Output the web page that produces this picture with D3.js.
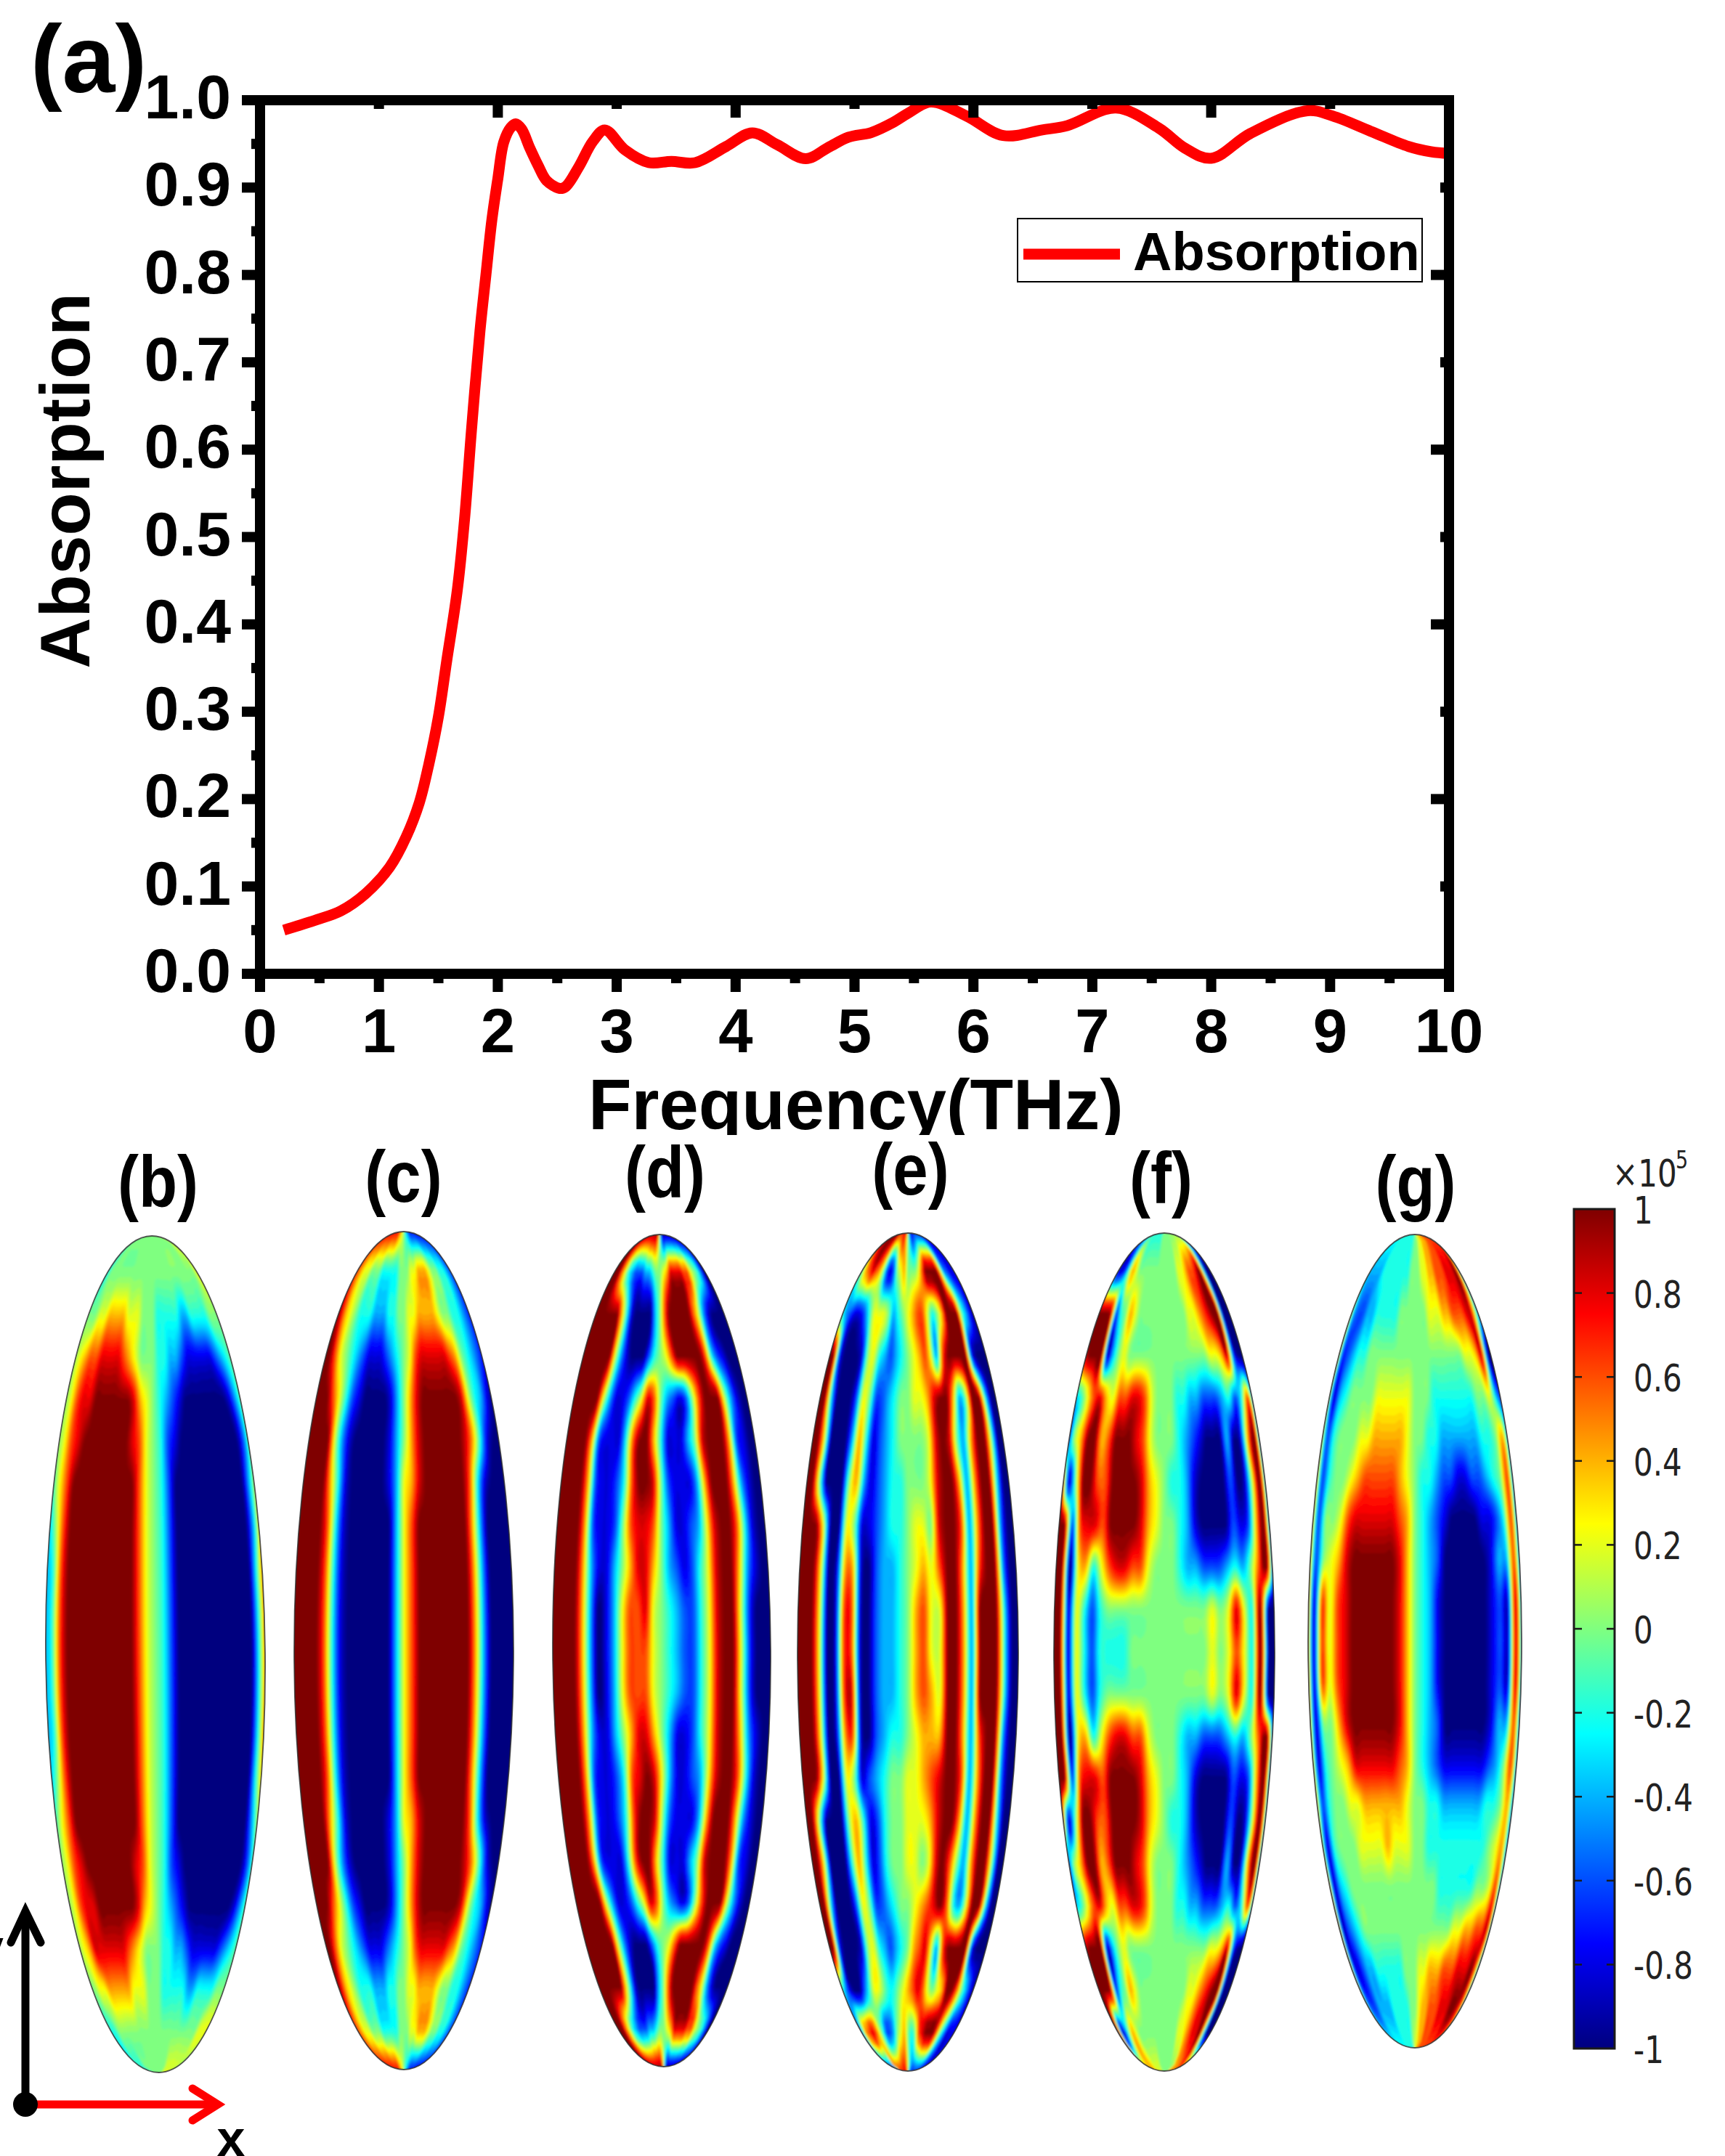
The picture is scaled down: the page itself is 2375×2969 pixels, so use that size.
<!DOCTYPE html>
<html>
<head>
<meta charset="utf-8">
<script src="https://cdn.jsdelivr.net/npm/d3@7"></script>
<style>
  html, body { margin: 0; padding: 0; background: #fff; }
  svg { display: block; }
</style>
</head>
<body>
<div id="chart"></div>
<script>
// absorption curve
var freqValues = [0.2, 0.48, 0.68, 0.89, 1.09, 1.23, 1.34, 1.42, 1.5, 1.57, 1.66, 1.72, 1.78, 1.85, 1.9, 1.95, 2.0, 2.05, 2.11, 2.15, 2.2, 2.27, 2.34, 2.41, 2.52, 2.57, 2.68, 2.8, 2.9, 3.07, 3.27, 3.46, 3.66, 3.92, 4.14, 4.35, 4.59, 4.78, 4.95, 5.14, 5.33, 5.45, 5.64, 5.94, 6.25, 6.58, 6.79, 7.2, 7.56, 7.78, 8.0, 8.33, 8.81, 9.02, 9.34, 9.66, 9.85, 10];
var absorptionValues = [0.05, 0.062, 0.072, 0.092, 0.122, 0.157, 0.196, 0.24, 0.294, 0.358, 0.44, 0.52, 0.625, 0.736, 0.8, 0.863, 0.91, 0.952, 0.969, 0.973, 0.967, 0.945, 0.925, 0.908, 0.899, 0.901, 0.9235, 0.953, 0.966, 0.943, 0.9285, 0.93, 0.9285, 0.947, 0.9626, 0.949, 0.933, 0.946, 0.9577, 0.963, 0.975, 0.985, 0.998, 0.982, 0.9595, 0.966, 0.971, 0.991, 0.968, 0.945, 0.9335, 0.962, 0.988, 0.982, 0.9645, 0.947, 0.941, 0.939];

var xMajorTicks = [0, 1, 2, 3, 4, 5, 6, 7, 8, 9, 10];
var xMinorTicks = [0.5, 1.5, 2.5, 3.5, 4.5, 5.5, 6.5, 7.5, 8.5, 9.5];
var yMajorTicks = [0, 0.1, 0.2, 0.3, 0.4, 0.5, 0.6, 0.7, 0.8, 0.9, 1];
var yMinorTicks = [0.05, 0.15, 0.25, 0.35, 0.45, 0.55, 0.65, 0.75, 0.85, 0.95];
var topMajorTicks = [0, 2, 4, 6, 8, 10];
var topMinorTicks = [1, 3, 5, 7, 9];
var rightMajorTicks = [0, 0.2, 0.4, 0.6, 0.8, 1];
var rightMinorTicks = [0.1, 0.3, 0.5, 0.7, 0.9];

// field maps: one string per row from tip to tip, 29 columns from edge to edge
// level 0 = -1, 5 = 0, A = +1 (steps of 0.2)
var fieldB = [
  "4445555555 5555555555 555556666",
  "4455555555 5555555555 555555566",
  "5556677776 6655544444 334444555",
  "5678899998 7655544332 111112345",
  "56899AAAAA A976543210 000000135",
  "5689AAAAAA A986542100 000000025",
  "468AAAAAAA AA86542000 000000036",
  "358AAAAAAA AA86542000 000000037",
  "348AAAAAAA AA86542000 000000048",
  "348AAAAAAA AA86542000 000000048",
  "348AAAAAAA AA86542000 000000048",
  "348AAAAAAA AA86542000 000000048",
  "348AAAAAAA AA86542000 000000048",
  "358AAAAAAA AA86542000 000000047",
  "468AAAAAAA AA86542000 000000036",
  "5689AAAAAA A986542100 000000025",
  "56899AAAAA A976543210 000000135",
  "5679999998 7655544332 111112345",
  "5566777776 6655544444 334444555",
  "4445555555 5555555555 555556666",
  "4444445555 5555555566 666665544"
];
var fieldC = [
  "9999999999 9876543211 111111111",
  "9876655544 4445556677 765544321",
  "A976544433 3445566777 765544321",
  "AA86543211 1234568999 998754321",
  "AAA8642100 0013579AAA AAA964310",
  "AAAA631000 0013579AAA AAA974100",
  "AAAA741000 0013679AAA AAA841000",
  "AAAA841000 000368AAAA AAA730000",
  "AAAA841000 000368AAAA AAA730000",
  "AAAA841000 000368AAAA AAA730000",
  "AAAA841000 000368AAAA AAA730000",
  "AAAA841000 000368AAAA AAA730000",
  "AAAA841000 000368AAAA AAA730000",
  "AAAA841000 000368AAAA AAA730000",
  "AAAA741000 0013679AAA AAA841000",
  "AAAA631000 0013579AAA AAA974100",
  "AAA8642100 0013579AAA AAA964310",
  "AA86543211 1234568999 998754321",
  "A976544433 3445566777 765544321",
  "9876655544 4445556677 765544321",
  "9999999999 9876543211 111111111"
];
var fieldD = [
  "AAAAAAAAAA AAA8520000 000000000",
  "AAA8643222 3345567999 988654200",
  "AAAAAA7410 000358AAAA A86310000",
  "AAAAAA6310 0024568AAA AA8421000",
  "AAAAA63112 4698532125 8AAA63100",
  "AAAA721114 8AA7411135 9AAA72100",
  "AAAA721124 8AA9521113 7AAA73100",
  "AAAA721125 8998531123 69AA84100",
  "AAAA731135 7997532124 69AA73100",
  "AAAA730136 8896543224 69AA62000",
  "AAAA730136 8886543224 69AA62000",
  "AAAA730136 8886543224 69AA62000",
  "AAAA731135 7997531124 69AA73100",
  "AAAA721124 89A9631123 69AA84100",
  "AAAA721124 8AA9521113 7AAA73100",
  "AAAA721114 8AA7411135 9AAA72100",
  "AAAAA63112 4698532125 8AAA63100",
  "AAAAAA6310 0024568AAA AA8421000",
  "AAAAAA7410 000358AAAA A86310000",
  "AAA8643222 3345567999 988654200",
  "AAAAAAAAAA AAA8520000 000000000"
];
var fieldE = [
  "AAAAAAAA99 9997531111 111111111",
  "4578987521 2567555 68A AAA732110",
  "5321124666 5345678864 57AAA5310",
  "AA20001564 3234567863 8AAAA2000",
  "AA40002652 2345566 79A A735AA400",
  "AA60003741 2345555 69A 9537AA500",
  "AA50005731 2344555 69A A737AA400",
  "AAA6006511 2344566 59A A837AA300",
  "AAA6017710 2334567 68A A738AA300",
  "AAA6018810 2334578 66A A73AAA400",
  "AAA6018810 2334578 66A A73AAA400",
  "AAA6018910 2334578 76A A73AAA400",
  "AAA6017810 2344567 77A A738AA300",
  "AAA6006512 3455667 89A A837AA300",
  "AA50005741 2455666 79A A737AA400",
  "AA60004741 2455665 69A 8537AA500",
  "AA40002652 2345567 89A 8436AA400",
  "AA20001564 3234578 963 8AAAA2000",
  "5310024665 4456789865 67AA85310",
  "2378986422 3567545 89A AA8531110",
  "1111118899 9998642111 111111111"
];
var fieldF = [
  "3333344444 4445555555 555544333",
  "3112576555 5555555566 7889A5001",
  "AAA9245765 5555555556 6789AA100",
  "9AAA135655 5555555555 556679200",
  "3468976889 9865554433 222342481",
  "157AA78AAA 9865554321 0003017A0",
  "A15AA88AAA A976544310 0002016A1",
  "AA28998AAA A976554310 0002127A0",
  "AA06746899 8865554332 2234358A0",
  "AA16424555 5555555555 656964A00",
  "AA16424444 5555555555 656864A00",
  "AA16424555 5555555555 656964A00",
  "AA06746899 8865554332 2234358A0",
  "AA28998AAA A976554310 0002127A0",
  "A15AA88AAA A976544310 0002016A1",
  "157AA78AAA 9865554321 0003017A0",
  "3468976889 9865554433 222342481",
  "9AAA135655 5555555555 556679200",
  "AAA9245765 5555555556 6789AA100",
  "A912576555 5555555566 7899A5001",
  "8888777766 6655555555 777888999"
];
var fieldG = [
  "4444444444 4444556677 788888888",
  "4333344444 4445556677 888999A61",
  "7322334444 4555555666 778889951",
  "8223445555 5555555555 555667910",
  "7134555566 6666555444 444455631",
  "7245556677 7776554433 333344572",
  "8245567888 8876544322 112234581",
  "8255689999 9987543210 000112481",
  "825679AAAA AA97543200 000013381",
  "918689AAAA AA97543100 000012191",
  "918689AAAA AA97543100 000012191",
  "918689AAAA AA97543100 000012191",
  "815579AAAA AA97543200 000013381",
  "8145679999 9987543211 111123581",
  "8245566777 7776554433 333344571",
  "7145556666 7666554444 444445671",
  "9134555555 5555555544 444455681",
  "A123455555 5555555555 566778891",
  "9212334444 4455566777 888999A71",
  "7322333344 4445567788 8999AA971",
  "4444444444 4445667788 888888888"
];

var panelFields = [fieldB, fieldC, fieldD, fieldE, fieldF, fieldG];
var panelLabels = ["(b)", "(c)", "(d)", "(e)", "(f)", "(g)"];
var colorbarTicks = [1, 0.8, 0.6, 0.4, 0.2, 0, -0.2, -0.4, -0.6, -0.8, -1];
var jetDomain = [-1, -0.75, -0.25, 0.25, 0.75, 1];
var jetColors = ["#00007f", "#0000ff", "#00ffff", "#ffff00", "#ff0000", "#7f0000"];

// layout of the ellipses
var panelCx = [214, 556, 911, 1250, 1603, 1948];
var panelCy = [2278, 2273, 2273, 2275, 2275, 2260];
var panelRx = [151, 151, 150, 152, 152, 147];
var panelRy = [576, 577, 573, 577, 577, 560];
var panelTilt = [-0.5, 0, -0.3, 0, 0, 0];
var labelCx = [217.5, 555.5, 915.5, 1253.5, 1598.5, 1949];
var labelBase = [1662, 1655, 1649, 1645, 1657, 1662];

var width = 2375, height = 2969;
var sansFont = "'Liberation Sans', Arial, sans-serif";
var dejaFont = "'DejaVu Sans', sans-serif";

var svg = d3.select("#chart").append("svg")
    .attr("width", width)
    .attr("height", height)
    .style("background", "#fff");

var x = d3.scaleLinear().domain([0, 10]).range([358, 1995]);
var y = d3.scaleLinear().domain([0, 1]).range([1341, 138]);
var jet = d3.scaleLinear().domain(jetDomain).range(jetColors).clamp(true);

// curve goes under the frame, the peak at 5.6 THz is hidden by the top spine
var line = d3.line()
    .x(function(d) { return x(d[0]); })
    .y(function(d) { return y(d[1]); })
    .curve(d3.curveCatmullRom.alpha(0.5));

svg.append("path")
    .datum(d3.zip(freqValues, absorptionValues))
    .attr("fill", "none")
    .attr("stroke", "#ff0000")
    .attr("stroke-width", 15)
    .attr("d", line);

function styleAxis(g) {
  g.select(".domain")
      .attr("stroke", "#000")
      .attr("stroke-width", 14)
      .attr("stroke-linecap", "square");
  g.selectAll(".tick line")
      .attr("stroke", "#000")
      .attr("stroke-width", 14);
}

function addAxis(axis, transform) {
  return svg.append("g")
      .attr("transform", transform)
      .call(axis.tickSizeOuter(0).offset(0))
      .call(styleAxis);
}

addAxis(d3.axisBottom(x).tickValues(xMinorTicks).tickSize(13).tickFormat(""), "translate(0," + y(0) + ")");
addAxis(d3.axisLeft(y).tickValues(yMinorTicks).tickSize(12).tickFormat(""), "translate(" + x(0) + ",0)");
addAxis(d3.axisTop(x).tickValues(topMinorTicks).tickSize(-12).tickFormat(""), "translate(0," + y(1) + ")");
addAxis(d3.axisTop(x).tickValues(topMajorTicks).tickSize(-24).tickFormat(""), "translate(0," + y(1) + ")");
addAxis(d3.axisRight(y).tickValues(rightMinorTicks).tickSize(-12).tickFormat(""), "translate(" + x(10) + ",0)");
addAxis(d3.axisRight(y).tickValues(rightMajorTicks).tickSize(-25).tickFormat(""), "translate(" + x(10) + ",0)");

var bottomAxis = addAxis(d3.axisBottom(x).tickValues(xMajorTicks).tickSize(25).tickFormat(d3.format("d")), "translate(0," + y(0) + ")");
bottomAxis.selectAll("text")
    .attr("y", 108)
    .attr("dy", 0)
    .attr("fill", "#000")
    .style("font", "bold 85px " + sansFont);

var leftAxis = addAxis(d3.axisLeft(y).tickValues(yMajorTicks).tickSize(25).tickFormat(d3.format(".1f")), "translate(" + x(0) + ",0)");
leftAxis.selectAll("text")
    .attr("x", -40)
    .attr("y", 25)
    .attr("dy", 0)
    .attr("fill", "#000")
    .style("font", "bold 86px " + sansFont);

svg.selectAll(".domain").attr("fill", "none");

svg.append("text")
    .attr("x", 42)
    .attr("y", 127)
    .style("font", "bold 131px " + sansFont)
    .text("(a)");

svg.append("text")
    .attr("transform", "translate(123,662) rotate(-90)")
    .attr("text-anchor", "middle")
    .style("font", "bold 97px " + sansFont)
    .text("Absorption");

svg.append("defs").append("clipPath")
    .attr("id", "xTitleClip")
    .append("rect")
    .attr("x", 0).attr("y", 1400)
    .attr("width", width).attr("height", 163);

svg.append("text")
    .attr("x", 810)
    .attr("y", 1555)
    .attr("clip-path", "url(#xTitleClip)")
    .style("font", "bold 97.5px " + sansFont)
    .text("Frequency(THz)");

// legend
var legend = svg.append("g");
legend.append("rect")
    .attr("x", 1401).attr("y", 301)
    .attr("width", 557).attr("height", 87)
    .attr("fill", "#fff")
    .attr("stroke", "#000")
    .attr("stroke-width", 2);
legend.append("line")
    .attr("x1", 1409).attr("x2", 1542)
    .attr("y1", 350).attr("y2", 350)
    .attr("stroke", "#ff0000")
    .attr("stroke-width", 15);
legend.append("text")
    .attr("x", 1560)
    .attr("y", 372)
    .style("font", "bold 74px " + sansFont)
    .text("Absorption");

// ---- field maps ----
var levelChars = "0123456789A";

function decodeField(rows) {
  return rows.map(function(r) {
    return r.replace(/ /g, "").split("").map(function(c) {
      return levelChars.indexOf(c) / 5 - 1;
    });
  });
}

function catmull(a, b, c, d, t) {
  return 0.5 * (2 * b + (c - a) * t + (2 * a - 5 * b + 4 * c - d) * t * t + (3 * b - a - 3 * c + d) * t * t * t);
}

// thicken the coarse table so the contour lines come out round
function refine(grid, k) {
  var nr = grid.length, nc = grid[0].length;
  var w = (nc - 1) * k + 1, h = (nr - 1) * k + 1;
  var values = new Array(w * h);
  function at(r, c) {
    r = Math.max(0, Math.min(nr - 1, r));
    c = Math.max(0, Math.min(nc - 1, c));
    return grid[r][c];
  }
  for (var j = 0; j < h; j++) {
    var r0 = Math.min(nr - 2, Math.floor(j / k)), tr = j / k - r0;
    for (var i = 0; i < w; i++) {
      var c0 = Math.min(nc - 2, Math.floor(i / k)), tc = i / k - c0;
      var col = [];
      for (var m = -1; m <= 2; m++) {
        col.push(catmull(at(r0 + m, c0 - 1), at(r0 + m, c0), at(r0 + m, c0 + 1), at(r0 + m, c0 + 2), tc));
      }
      values[j * w + i] = Math.max(-1, Math.min(1, catmull(col[0], col[1], col[2], col[3], tr)));
    }
  }
  return { w: w, h: h, values: values };
}

var thresholds = d3.range(-0.98, 1, 0.04);

var soften = svg.append("defs").append("filter")
    .attr("id", "soften")
    .attr("x", "-5%").attr("y", "-5%")
    .attr("width", "110%").attr("height", "110%");
soften.append("feGaussianBlur").attr("stdDeviation", 1.6);

panelFields.forEach(function(rows, p) {
  var cx = panelCx[p], cy = panelCy[p], rx = panelRx[p], ry = panelRy[p];
  var fine = refine(decodeField(rows), 4);

  var contours = d3.contours()
      .size([fine.w, fine.h])
      .thresholds(thresholds)(fine.values);

  // table coordinates to ellipse: columns follow the outline at every row
  var toEllipse = d3.geoTransform({
    point: function(gx, gy) {
      var u = Math.max(0, Math.min(1, (gx - 0.5) / (fine.w - 1))) * 2 - 1;
      var v = Math.max(0, Math.min(1, (gy - 0.5) / (fine.h - 1))) * 2 - 1;
      var half = Math.sqrt(Math.max(0, 1 - v * v));
      this.stream.point(cx + u * half * rx * 1.02, cy + v * ry * 1.01);
    }
  });
  var path = d3.geoPath(toEllipse);

  var clipId = "fieldClip" + p;
  svg.append("clipPath").attr("id", clipId)
      .append("ellipse")
      .attr("cx", cx).attr("cy", cy).attr("rx", rx).attr("ry", ry);

  var g = svg.append("g")
      .attr("transform", "rotate(" + panelTilt[p] + "," + cx + "," + cy + ")");

  var inner = g.append("g")
      .attr("clip-path", "url(#" + clipId + ")")
      .append("g")
      .attr("filter", "url(#soften)");
  inner.append("ellipse")
      .attr("cx", cx).attr("cy", cy).attr("rx", rx + 4).attr("ry", ry + 4)
      .attr("fill", jet(-1));
  inner.selectAll("path")
      .data(contours)
      .enter().append("path")
      .attr("d", path)
      .attr("fill", function(d) { return jet(d.value + 0.02); });

  g.append("ellipse")
      .attr("cx", cx).attr("cy", cy).attr("rx", rx).attr("ry", ry)
      .attr("fill", "none")
      .attr("stroke", "#2c2c2c")
      .attr("stroke-width", 1.8)
      .attr("stroke-opacity", 0.8);

  svg.append("text")
      .attr("transform", "translate(" + labelCx[p] + "," + labelBase[p] + ") scale(1,1.15)")
      .attr("text-anchor", "middle")
      .style("font", "bold 87px " + sansFont)
      .text(panelLabels[p]);
});

// ---- colorbar ----
var barX = 2167, barW = 56;
var cbar = d3.scaleLinear().domain([-1, 1]).range([2821, 1665]);

var gradient = svg.append("defs").append("linearGradient")
    .attr("id", "jetGradient")
    .attr("x1", 0).attr("x2", 0)
    .attr("y1", 1).attr("y2", 0);
gradient.selectAll("stop")
    .data(jetDomain)
    .enter().append("stop")
    .attr("offset", function(d) { return (d + 1) / 2; })
    .attr("stop-color", function(d) { return jet(d); });

svg.append("rect")
    .attr("x", barX).attr("y", cbar(1))
    .attr("width", barW).attr("height", cbar(-1) - cbar(1))
    .attr("fill", "url(#jetGradient)")
    .attr("stroke", "#1a1a1a")
    .attr("stroke-width", 3);

var innerTicks = colorbarTicks.slice(1, -1);
svg.selectAll(".cbTickL")
    .data(innerTicks)
    .enter().append("line")
    .attr("class", "cbTickL")
    .attr("x1", barX).attr("x2", barX + 11)
    .attr("y1", function(d) { return cbar(d); })
    .attr("y2", function(d) { return cbar(d); })
    .attr("stroke", "#1a1a1a")
    .attr("stroke-width", 2.5);
svg.selectAll(".cbTickR")
    .data(innerTicks)
    .enter().append("line")
    .attr("class", "cbTickR")
    .attr("x1", barX + barW - 11).attr("x2", barX + barW)
    .attr("y1", function(d) { return cbar(d); })
    .attr("y2", function(d) { return cbar(d); })
    .attr("stroke", "#1a1a1a")
    .attr("stroke-width", 2.5);

svg.selectAll(".cbLabel")
    .data(colorbarTicks)
    .enter().append("text")
    .attr("class", "cbLabel")
    .attr("transform", function(d) { return "translate(2249," + (cbar(d) + 20) + ") scale(1,1.22)"; })
    .attr("fill", "#222")
    .style("font", "42px " + dejaFont)
    .text(function(d) { return String(d); });

svg.append("text")
    .attr("transform", "translate(2220,1634) scale(1,1.22)")
    .attr("fill", "#222")
    .style("font", "42px " + dejaFont)
    .text("×10");
svg.append("text")
    .attr("transform", "translate(2307,1609) scale(1,1.22)")
    .attr("fill", "#222")
    .style("font", "27px " + dejaFont)
    .text("5");

// ---- coordinate arrows ----
var arrows = svg.append("g").attr("fill", "none").attr("stroke-linecap", "round");
arrows.append("path")
    .attr("d", "M35,2898V2632")
    .attr("stroke", "#000")
    .attr("stroke-width", 11)
    .attr("stroke-linecap", "butt");
arrows.append("path")
    .attr("d", "M15,2675L35,2632L56,2675")
    .attr("stroke", "#000")
    .attr("stroke-width", 11)
    .attr("stroke-linejoin", "miter");
arrows.append("path")
    .attr("d", "M35,2898H298")
    .attr("stroke", "#ff0000")
    .attr("stroke-width", 11)
    .attr("stroke-linecap", "butt");
arrows.append("path")
    .attr("d", "M265,2876L300,2898L265,2920")
    .attr("stroke", "#ff0000")
    .attr("stroke-width", 11)
    .attr("stroke-linejoin", "miter");
svg.append("circle")
    .attr("cx", 35).attr("cy", 2898).attr("r", 17)
    .attr("fill", "#000");

svg.append("text")
    .attr("x", 5).attr("y", 2706)
    .attr("text-anchor", "end")
    .style("font", "bold 70px " + sansFont)
    .text("y");
svg.append("text")
    .attr("x", 318).attr("y", 2969)
    .attr("text-anchor", "middle")
    .style("font", "bold 70px " + sansFont)
    .text("x");
</script>
</body>
</html>
